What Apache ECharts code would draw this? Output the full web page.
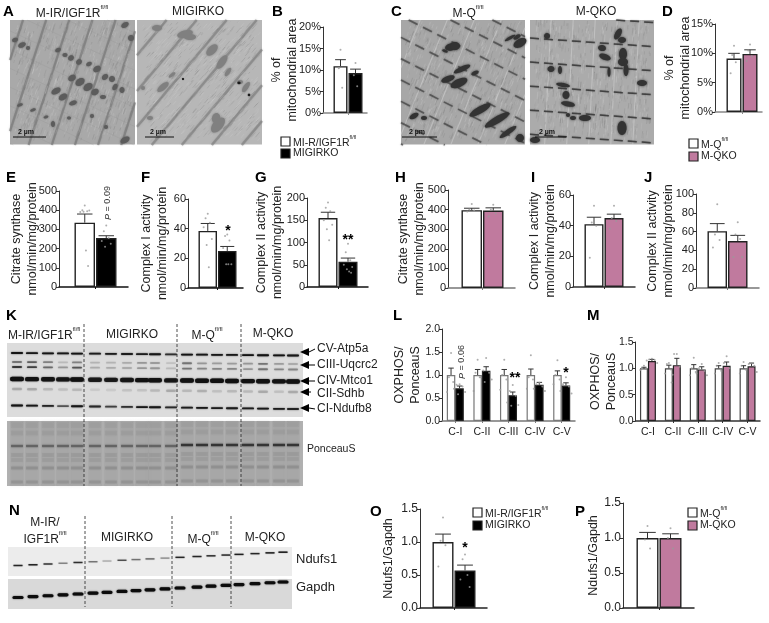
<!DOCTYPE html>
<html><head><meta charset="utf-8">
<style>html,body{margin:0;padding:0;background:#fff}#c{width:769px;height:623px}</style>
<script src="https://cdn.jsdelivr.net/npm/echarts@6/dist/echarts.min.js"></script>
</head><body><div id="c"></div>
<script>
// ---------- values ----------
const bMeans=[10.9,9.3], bErrs=[1.5,0.9], bDots=[[14.7,10.4,5.9],[11.6,8.8,6.2]];
const dMeans=[9.1,9.9], dErrs=[0.9,0.7], dDots=[[11.3,9.7,8.5,6.6],[11.5,10.5,9.5,8.7]];
const eMeans=[335,255], eErrs=[45,12], eDots=[[425,400,395,390,398,392,190,110],[320,290,255,240,225,210]];
const fMeans=[38.5,25], fErrs=[5,3], fDots=[[50,47,44,41,33,29,14],[36,35,32,27,16,16,16]];
const gMeans=[155,57], gErrs=[13,8], gDots=[[190,178,170,150,140,130,105],[97,78,60,50,45,40,35,32]];
const hMeans=[397,395], hErrs=[10,14], hDots=[[428,400,395,390],[425,400,380,365]];
const iMeans=[41,45], iErrs=[4.5,2.5], iDots=[[53,42,40,19],[53,45,43,38]];
const jMeans=[60.5,50], jErrs=[8,6], jDots=[[89,57,51,43],[70,57,52,33,33]];
const oMeans=[1.0,0.57], oErrs=[0.12,0.08], oDots=[[1.37,1.02,0.95,0.63],[0.81,0.74,0.5,0.43,0.32]];
const pMeans=[1.0,1.0], pErrs=[0.08,0.06], pDots=[[1.17,0.98,0.85],[1.14,1.0,0.85]];
const complexes=['C-I','C-II','C-III','C-IV','C-V'];
const lCtrl=[1,1,1,1,1], lKo=[0.71,1.09,0.56,0.79,0.77];
const lCtrlErr=[0.15,0.12,0.12,0.13,0.09], lKoErr=[0.05,0.09,0.07,0.05,0.06];
const lCtrlDots=[[1.48,0.95,0.85,0.63],[1.33,1.05,0.95,0.65],[1.33,1.0,0.9,0.68],[1.43,0.95,0.9,0.7],[1.32,1.0,0.9,0.8]];
const lKoDots=[[0.8,0.79,0.75,0.7,0.63,0.58],[1.37,1.1,1.05,0.95,0.9,0.85],[0.78,0.65,0.55,0.4,0.35,0.33],[0.83,0.8,0.75,0.7,0.65],[0.95,0.8,0.75,0.65,0.6]];
const mCtrl=[1,1,1,1,1], mKo=[1.14,1.06,0.98,1.05,1.04];
const mCtrlErr=[0.02,0.06,0.07,0.05,0.05], mKoErr=[0.03,0.13,0.05,0.07,0.06];
const mCtrlDots=[[1.05,1,0.99,0.97],[1.1,1.08,0.98,0.9,0.88],[1.2,1.0,0.93,0.87],[1.1,1.05,0.98,0.9],[1.12,1.05,0.98,0.9]];
const mKoDots=[[1.18,1.17,1.16,1.15,1.1],[1.27,1.27,1.03,0.73],[1.08,1,0.95,0.9,0.87],[1.23,1.1,1,0.95],[1.1,1.08,1.05,0.98,0.93]];

// ---------- styles ----------
const FONT='"Liberation Sans",Arial,sans-serif';
const WHITE='#ffffff', BLACK='#000000', PINK='#C07A9E', INK='#222222', DOT='#9a9a9a';
const jitter=[0,-0.16,0.16,-0.3,0.3,-0.08,0.08,0.22];

// ---------- panel layouts ----------
const twoBar=[
 {m:bMeans,e:bErrs,d:bDots,c:BLACK,x0:323,x1:367,yT:27,yB:113,bl:333,bw:15,max:20,iv:5,fmt:'{value}%',t:'% of\nmitochondrial area',tx:291.5,base:'#888',fs:11},
 {m:dMeans,e:dErrs,d:dDots,c:PINK,x0:715,x1:762,yT:24,yB:112,bl:726,bw:16,max:15,iv:5,fmt:'{value}%',t:'% of\nmitochondrial area',tx:684,base:'#888',fs:11},
 {m:eMeans,e:eErrs,d:eDots,c:BLACK,x0:59,x1:128,yT:191,yB:287,bl:74,bw:21.5,max:500,iv:100,t:'Citrate synthase\nnmol/min/mg/protein',tx:31.5,base:'#111',fs:11},
 {m:fMeans,e:fErrs,d:fDots,c:BLACK,x0:188,x1:243,yT:199,yB:288,bl:198,bw:19.5,max:60,iv:20,t:'Complex I activity\nnmol/min/mg/protein',tx:161,base:'#111',fs:11},
 {m:gMeans,e:gErrs,d:gDots,c:BLACK,x0:307,x1:368,yT:198,yB:287,bl:318,bw:20,max:200,iv:50,t:'Complex II activity\nnmol/min/mg/protein',tx:276,base:'#111',fs:11},
 {m:hMeans,e:hErrs,d:hDots,c:PINK,x0:448,x1:515,yT:190,yB:288,bl:461,bw:21.5,max:500,iv:100,t:'Citrate synthase\nnmol/min/mg/protein',tx:418,base:'#777',fs:11},
 {m:iMeans,e:iErrs,d:iDots,c:PINK,x0:573,x1:635,yT:195,yB:287,bl:584,bw:20,max:60,iv:20,t:'Complex I activity\nnmol/min/mg/protein',tx:549,base:'#333',fs:11},
 {m:jMeans,e:jErrs,d:jDots,c:PINK,x0:696,x1:759,yT:194,yB:288,bl:707,bw:20.5,max:100,iv:20,t:'Complex II activity\nnmol/min/mg/protein',tx:667,base:'#777',fs:11},
 {m:oMeans,e:oErrs,d:oDots,c:BLACK,x0:420,x1:487,yT:509,yB:608,bl:432,bw:22,max:1.5,iv:0.5,dec:1,t:'Ndufs1/Gapdh',tx:387,base:'#222',fs:12},
 {m:pMeans,e:pErrs,d:pDots,c:PINK,x0:623,x1:694,yT:503,yB:608,bl:636,bw:23,max:1.5,iv:0.5,dec:1,t:'Ndufs1/Gapdh',tx:592,base:'#222',fs:12}
];
const grouped=[
 {a:lCtrl,b:lKo,ae:lCtrlErr,be:lKoErr,ad:lCtrlDots,bd:lKoDots,c:BLACK,x0:442,x1:575,yT:329,yB:421,max:2,iv:0.5,t:'OXPHOS/\nPonceauS',tx:414,base:'#777'},
 {a:mCtrl,b:mKo,ae:mCtrlErr,be:mKoErr,ad:mCtrlDots,bd:mKoDots,c:PINK,x0:635.5,x1:760,yT:342,yB:421,max:1.5,iv:0.5,t:'OXPHOS/\nPonceauS',tx:610,base:'#333'}
];

const grids=[],xAxes=[],yAxes=[],series=[];
function yAxisOf(p,i,fs,dec){
 return {gridIndex:i,type:'value',min:0,max:p.max,interval:p.iv,splitLine:{show:false},
  axisLine:{show:true,onZero:false,lineStyle:{color:'#333',width:1}},
  axisTick:{show:true,length:3,lineStyle:{color:'#333'}},
  axisLabel:{fontFamily:FONT,fontSize:fs,color:INK,margin:2,
    formatter:p.fmt||(dec?(v=>v.toFixed(dec)):'{value}')},
  name:p.t,nameLocation:'middle',nameRotate:90,nameGap:p.x0-p.tx-9.5,nameMoveOverlap:false,
  nameTextStyle:{fontFamily:FONT,fontSize:12.5,color:INK,lineHeight:16}};
}
function errorSeries(i,data,cap){
 return {type:'custom',xAxisIndex:i,yAxisIndex:i,z:3,data,encode:{x:0,y:1},silent:true,
  renderItem(_,api){
   const x=api.value(0),m=api.value(1),e=api.value(2),a=api.coord([x,m]),b=api.coord([x,m+e]);
   const st={stroke:'#333',lineWidth:1};
   return {type:'group',children:[
    {type:'line',shape:{x1:a[0],y1:a[1],x2:b[0],y2:b[1]},style:st},
    {type:'line',shape:{x1:b[0]-cap,y1:b[1],x2:b[0]+cap,y2:b[1]},style:st}]};
  }};
}
function dotSeries(i,pts){
 return {type:'scatter',xAxisIndex:i,yAxisIndex:i,z:4,symbolSize:2,data:pts,silent:true,itemStyle:{color:DOT}};
}
twoBar.forEach((p,i)=>{
 grids.push({left:p.x0,top:p.yT,width:p.x1-p.x0,height:p.yB-p.yT});
 const c0=p.bl+p.bw/2;
 xAxes.push({gridIndex:i,type:'value',min:(p.x0-c0)/p.bw,max:(p.x1-c0)/p.bw,splitLine:{show:false},
  axisLine:{show:true,onZero:false,lineStyle:{color:p.base,width:1.5}},
  axisTick:{show:true,length:2,customValues:[0.5],lineStyle:{color:p.base}},
  axisLabel:{show:false}});
 yAxes.push(yAxisOf(p,i,p.fs,p.dec));
 series.push({type:'bar',xAxisIndex:i,yAxisIndex:i,z:2,barWidth:p.bw-1,silent:true,
  data:p.m.map((v,k)=>({value:[k,v],itemStyle:{color:k?p.c:WHITE,borderColor:INK,borderWidth:1.4}}))});
 series.push(errorSeries(i,p.m.map((v,k)=>[k,v,p.e[k]]),p.bw*0.36));
 const pts=[];p.d.forEach((arr,k)=>arr.forEach((v,n)=>pts.push([k+jitter[n%jitter.length]*0.7,v])));
 series.push(dotSeries(i,pts));
});
grouped.forEach((p,g)=>{
 const i=twoBar.length+g, unit=(p.x1-p.x0)/5, bw=unit*0.32, off=0.16;
 grids.push({left:p.x0,top:p.yT,width:p.x1-p.x0,height:p.yB-p.yT});
 xAxes.push({gridIndex:i,type:'value',min:-0.5,max:4.5,splitLine:{show:false},
  axisLine:{show:true,onZero:false,lineStyle:{color:p.base,width:1.5}},
  axisTick:{show:true,length:2,customValues:[0,1,2,3,4],lineStyle:{color:p.base}},
  axisLabel:{show:true,customValues:[0,1,2,3,4],margin:6,fontFamily:FONT,fontSize:10.5,color:INK,formatter:v=>complexes[v]}});
 yAxes.push(yAxisOf(p,i,10.5,1));
 const bars=[],errs=[],pts=[];
 p.a.forEach((v,k)=>{
  bars.push({value:[k-off,v],itemStyle:{color:WHITE,borderColor:g?'#444':'#777',borderWidth:1.2}});
  bars.push({value:[k+off,p.b[k]],itemStyle:{color:p.c,borderColor:INK,borderWidth:1.2}});
  errs.push([k-off,v,p.ae[k]],[k+off,p.b[k],p.be[k]]);
  p.ad[k].forEach((d,n)=>pts.push([k-off+jitter[n%8]*0.5,d]));
  p.bd[k].forEach((d,n)=>pts.push([k+off+jitter[n%8]*0.7,d]));
 });
 series.push({type:'bar',xAxisIndex:i,yAxisIndex:i,z:2,barWidth:bw,silent:true,data:bars});
 series.push(errorSeries(i,errs,bw*0.32));
 series.push(dotSeries(i,pts));
});

// ---------- decoration: micrographs, blots, labels ----------
const G=[];
function R(x,y,w,h,fill,extra){G.push(Object.assign({type:'rect',silent:true,shape:{x,y,width:w,height:h},style:{fill}},extra||{}));}
function L(x1,y1,x2,y2,stroke,w,extra){G.push({type:'line',silent:true,shape:{x1,y1,x2,y2},style:Object.assign({stroke,lineWidth:w},extra||{})});}
function T(text,x,y,opt){opt=opt||{};
 G.push({type:'text',silent:true,x,y,rotation:opt.rot||0,style:{text,fontFamily:FONT,fontSize:opt.fs||12,fontWeight:opt.fw||'normal',fontStyle:opt.st||'normal',fill:opt.c||INK,
  align:opt.al||'left',verticalAlign:'middle',textAlign:opt.al||'left',textVerticalAlign:'middle',rich:opt.rich}});}
function SUP(text,sup,x,y,fs,al){
 T('{m|'+text+'}{s|'+sup+'}',x,y,{fs,al,rich:{m:{fontFamily:FONT,fontSize:fs,fill:INK,color:INK,lineHeight:fs+3,verticalAlign:'bottom'},s:{fontFamily:FONT,fontSize:fs*0.5,fill:INK,color:INK,lineHeight:fs+3,verticalAlign:'top'}}});
}
function clipLine(x,y,w,h,px,py,dx,dy){
 let t0=-1e4,t1=1e4;
 [[-dx,px-x],[dx,x+w-px],[-dy,py-y],[dy,y+h-py]].forEach(([p,q])=>{
  if(Math.abs(p)<1e-9){if(q<0)t1=-1e9;return;}
  const r=q/p; if(p<0)t0=Math.max(t0,r); else t1=Math.min(t1,r);
 });
 return t0<t1?[px+t0*dx,py+t0*dy,px+t1*dx,py+t1*dy]:null;
}
function family(x,y,w,h,deg,step,stroke,lw,op,dash,blur){
 const a=deg*Math.PI/180,dx=Math.cos(a),dy=Math.sin(a),nx=-dy,ny=dx,cx=x+w/2,cy=y+h/2,R_=Math.hypot(w,h)/2;
 for(let s=-R_;s<=R_;s+=step){
  const c=clipLine(x,y,w,h,cx+nx*s,cy+ny*s,dx,dy);
  if(c)L(c[0],c[1],c[2],c[3],stroke,lw,{opacity:op,lineDash:dash,shadowBlur:blur||0,shadowColor:stroke});
 }
}
// photographic grain for the micrograph panels (texture only, no chart data)
function grain(x,y,w,h,deg,seed,n,len){
 const f=v=>{const s=Math.sin(v*12.9898+seed*78.233)*43758.5453;return s-Math.floor(s);};
 const a=deg*Math.PI/180,dx=Math.cos(a),dy=Math.sin(a);
 for(let i=0;i<n;i++){
  const l=len*(0.5+f(i+0.3)), px=x+l+f(i+0.1)*(w-2*l), py=y+l+f(i+0.2)*(h-2*l), dark=f(i+0.4)>0.5;
  L(px,py,px+dx*l,py+dy*l,dark?'#666':'#dedede',1,{opacity:0.08+0.14*f(i+0.6)});
 }
}
function blobs(list,fill,blur){
 list.forEach(([cx,cy,rx,ry,rot])=>{
  G.push({type:'ellipse',silent:true,shape:{cx:0,cy:0,rx,ry},x:cx,y:cy,rotation:-(rot||0)*Math.PI/180,
   style:{fill,shadowBlur:blur||1.5,shadowColor:fill}});
 });
}
const S=125;
// A left
R(10,20,S,S-0.5,'#a9a9a9');
family(10,20,S,125,-72,22,'#737373',2.2,0.5,null,1.5);
grain(10,20,S,125,-72,1,800,5);
family(10,20,S,125,25,17,'#8a8a8a',1,0.2);
blobs([[15,40,3,2,-20],[22,45,4,2.5,-25],[28,48,2,2],[58,50,3,2,-30],[65,55,2.5,2],[71,58,3,2.5,-30],[79,62,3,2.5,-30],[89,64,3,2,-30],[97,69,4,3,-30],[105,77,3.5,2.5,-40],[112,79,3,3],[115,87,3.5,2.2,-60],[122,90,2.5,3],
[72,78,4,3,-30],[80,82,5,3.5,-35],[88,87,5,3.5,-35],[95,92,4,3,-35],[103,97,3,2],[56,91,5,3,-30],[63,97,4.5,3,-30],[73,103,4,2.2,-20],[20,105,3,1.4,-20],[33,110,3,1.4,-20],[46,117,2.5,1.3,-20],[69,118,2,1.5],[92,116,2,2],[106,127,2,2],[125,140,5,3,-30],[125,25,4,2.5,-30],[131,38,3,3],[53,124,2,3]],'#5c5c5c',2);
L(13,137,46,137,'#111',1); T('2 µm',26,132,{fs:7,fw:'bold',al:'center',c:'#111'});
// A right
R(137,20,S,S-0.5,'#b7b7b7');
family(137,20,S,125,-50,23,'#7c7c7c',2.4,0.5,null,1.5);
grain(137,20,S,125,-50,2,800,5);
blobs([[185,34,8,3.5,-15],[190,37,6,3],[157,28,5,3],[212,50,7,4,-45],[222,62,8,3.5,-55],[228,72,5,2,-55],[246,87,6,2.5,-55],[240,82,3,2],[172,75,4,1.6,-35],[163,87,7,3,-40],[218,125,9,5,-50],[216,118,5,4,-70],[143,88,2,2],[150,118,3,2]],'#808080',2.5);
blobs([[239,83,1.5,1.2],[249,95,1.2,1.2],[183,79,1,1]],'#1a1a1a',1);
L(145,137,174,137,'#111',1); T('2 µm',158,132,{fs:7,fw:'bold',al:'center',c:'#111'});
// C left
R(401,20,124,124.5,'#a7a7a7');
family(401,20,124,125,-68,25,'#d8d8d8',1.1,0.45);
grain(401,20,124,125,-70,3,800,5);
family(401,20,124,125,27,19,'#3f3f3f',1.6,0.6,[10,6],1.5);
blobs([[451,47,6,3.5,-15],[455,46,5,4],[445,51,3,1.4,20],[462,69,9,2.5,-25],[475,73,4,2,-25],[448,79,7,3,-20],[459,83,9,4,-25],[480,110,12,3.5,-30],[497,120,14,3.5,-30],[508,132,10,2.5,-35],[520,43,7,4,-30],[517,37,4,2,-30],[414,116,5,2.5,-30],[424,118,3,2],[520,138,4,4],[510,38,6,1.5,-30]],'#333333',2.5);
L(402,137,437,137,'#111',1); T('2 µm',417,132,{fs:7,fw:'bold',al:'center',c:'#111'});
// C right
R(530,20,124,124.5,'#ababab');
family(530,20,124,125,-87,22,'#d9d9d9',1.1,0.45);
grain(530,20,124,125,-85,4,800,5);
family(530,20,124,125,4,24,'#2d2d2d',1.5,0.65,[9,5],1.2);
blobs([[618,34,6,3,-60],[622,40,4,3],[623,54,4,6],[623,62,5,4],[626,70,2.5,6],[602,48,3,4,-80],[605,57,3,6,-70],[609,72,1.5,5],[551,69,3.5,3],[560,70,2,4],[563,85,2,7,-80],[566,95,3.5,4],[568,104,2.5,7,-80],[568,115,2,2],[585,118,6,3],[622,128,4.5,7],[642,83,5,3],[535,140,5,3],[547,36,3,3],[573,118,3,2]],'#333333',2.5);
L(535,137,566,137,'#111',1); T('2 µm',547,132,{fs:7,fw:'bold',al:'center',c:'#111'});
// Blot K
const kLanes=[17,32,48,63,77,95,111,127,142,155,171,187,202,217,232,248,263,279,293];
const kBands=[
 {y0:353,y1:355.5,w:12,h:1.8,v:[.95,.9,.95,.9,.95,.85,.85,.85,.85,.9,.7,.95,.9,.9,.9,.95,.95,.95,.9]},
 {y0:362,y1:364,w:10,h:1.8,v:[.35,.45,.3,.1,.3,.12,.12,.15,.22,.2,.08,.35,.22,.2,.2,.22,.35,.2,.15]},
 {y0:367,y1:369.5,w:10,h:1.8,v:[.65,.6,.4,.22,.5,.15,.15,.15,.22,.22,.1,.35,.28,.28,.28,.22,.35,.28,.28]},
 {y0:379,y1:381.5,w:14,h:4.4,v:[1,1,.95,.9,1,.85,.85,.9,1,.95,.9,1,1,1,1,1,1,1,1]},
 {y0:389,y1:392,w:10,h:2.5,v:[.15,.15,.1,.08,.1,.05,.05,.07,.07,.1,.15,.1,.13,.08,.1,.1,.15,.08,.15]},
 {y0:405.5,y1:409,w:12,h:1.8,v:[.95,.9,.8,.5,.9,.75,.6,.7,.9,.9,.75,.85,.9,.85,.85,.85,.9,.85,.8]}
];
const pBands=[{y:425,o:.04,h:6},{y:433,o:.05,h:5},{y:446,o:.45,h:2.4},{y:455,o:.06,h:4},{y:460,o:.05,h:4},{y:468,o:.13,h:3},{y:482,o:.1,h:3}];
R(7,343,296,74,'#dcdcdc');
R(7,421,296,65,'#b2b2b2');
kLanes.forEach(x=>G.push({type:'rect',silent:true,shape:{x:x-7,y:421,width:14,height:65},style:{fill:'#8f8f8f',opacity:.15,shadowBlur:3,shadowColor:'#8f8f8f'}}));
kBands.forEach(b=>kLanes.forEach((x,i)=>{const y=b.y0+(b.y1-b.y0)*(x-17)/276;
 G.push({type:'rect',silent:true,shape:{x:x-b.w/2,y:y-b.h/2,width:b.w,height:b.h,r:b.h/2},style:{fill:'#111',opacity:b.v[i],shadowBlur:1.5,shadowColor:'#222'}});}));
pBands.forEach(b=>kLanes.forEach(x=>{const y=b.y+(x>180?-1:0),dark=b.o>.4&&x>180?.95:b.o;
 G.push({type:'rect',silent:true,shape:{x:x-6,y:y-b.h/2,width:12,height:b.h},style:{fill:'#333',opacity:dark,shadowBlur:2,shadowColor:'#555'}});}));
[84,177,241].forEach(x=>L(x,324,x,486,'#222',0.8,{lineDash:[3,2]}));
SUP('M-IR/IGF1R','fl/fl',8,334,12,'left');
T('MIGIRKO',132,335,{fs:12,al:'center'});
SUP('M-Q','fl/fl',207,334,12,'center');
T('M-QKO',273,334,{fs:12,al:'center'});
const kTargets=['CV-Atp5a','CIII-Uqcrc2','CIV-Mtco1','CII-Sdhb','CI-Ndufb8'], kTargetY=[349,365,381,394,409], kArrowY=[352,365,381,392,408];
kTargets.forEach((t,i)=>{const y=kArrowY[i];
 G.push({type:'polygon',silent:true,shape:{points:[[300,y],[309,y-4],[309,y+4]]},style:{fill:'#000'}});
 L(309,y,i==3?311:315,i==3?y:kTargetY[i],'#000',1);
 T(t,317,kTargetY[i],{fs:12});});
T('PonceauS',307,449,{fs:10.5});
// Blot N
const nLanes=[18,33,48,63,78,93,107,122,136,150,165,180,197,211,226,239,255,270,283];
const nA=[.8,.85,.7,.35,.75,.4,.2,.55,.4,.45,.3,.8,.8,.75,.75,.85,.8,.85,.9];
R(8,547,284,29,'#ececec');
R(8,579,284,30,'#d9d9d9');
nLanes.forEach((x,i)=>{const y=565.5-(x-18)*13.3/265,y2=597.5-(x-18)*15.5/265;
 G.push({type:'rect',silent:true,shape:{x:x-4.5,y:y-.7,width:9,height:1.4},style:{fill:'#111',opacity:nA[i],shadowBlur:1,shadowColor:'#444'}});
 G.push({type:'rect',silent:true,shape:{x:x-5.5,y:y2-1.6,width:11,height:3.2,r:1.6},style:{fill:'#0c0c0c',shadowBlur:1.5,shadowColor:'#333'}});});
[85,172,231].forEach(x=>L(x,516,x,607,'#222',0.8,{lineDash:[3,2]}));
T('M-IR/',45,523,{fs:12,al:'center'});
SUP('IGF1R','fl/fl',45,538,12,'center');
T('MIGIRKO',127,538,{fs:12,al:'center'});
SUP('M-Q','fl/fl',203,538,12,'center');
T('M-QKO',265,538,{fs:12,al:'center'});
T('Ndufs1',296,559,{fs:13}); T('Gapdh',296,587,{fs:13});
// Image titles
SUP('M-IR/IGF1R','fl/fl',72,12,12,'center');
T('MIGIRKO',198,12,{fs:12,al:'center'});
SUP('M-Q','fl/fl',468,12,12,'center');
T('M-QKO',596,12,{fs:12,al:'center'});
// Panel letters
[['A',3,12],['B',272,12],['C',391,12],['D',662,12],['E',6,178],['F',141,178],['G',255,178],['H',395,178],['I',531,178],['J',644,178],['K',6,316],['L',393,316],['M',587,316],['N',9,511],['O',370,512],['P',575,512]]
 .forEach(([t,x,y])=>T(t,x,y,{fs:15,fw:'bold',c:'#000'}));
// Legends
function legend(x,y1,y2,name1,sup,name2,color,fs){
 R(x,y1,9,9,WHITE,{style:{fill:WHITE,stroke:'#222',lineWidth:1.2}});
 R(x,y2,9,9,color,{style:{fill:color,stroke:'#222',lineWidth:1.2}});
 SUP(name1,sup,x+12,y1+4.5,fs,'left'); T(name2,x+12,y2+4.5,{fs});
}
legend(281,137,149,'MI-R/IGF1R','fl/fl','MIGIRKO',BLACK,10.5);
legend(689,139,152,'M-Q','fl/fl','M-QKO',PINK,10.5);
legend(473,508,521,'MI-R/IGF1R','fl/fl','MIGIRKO',BLACK,10.5);
legend(688,508,521,'M-Q','fl/fl','M-QKO',PINK,10.5);
// Significance marks
const rot=Math.PI/2;
G.push({type:'text',silent:true,x:108,y:203,rotation:rot,style:{text:'{i|P} = 0.09',fontFamily:FONT,fontSize:9,fill:'#333',align:'center',verticalAlign:'middle',rich:{i:{fontStyle:'italic',fontFamily:FONT,fontSize:9}}}});
G.push({type:'text',silent:true,x:462,y:362,rotation:rot,style:{text:'{i|P} = 0.06',fontFamily:FONT,fontSize:9,fill:'#333',align:'center',verticalAlign:'middle',rich:{i:{fontStyle:'italic',fontFamily:FONT,fontSize:9}}}});
[['*',228,231],['**',348,240],['**',515,378],['*',566,373],['*',465,548]].forEach(([t,x,y])=>T(t,x,y,{fs:14,fw:'bold',al:'center',c:'#000'}));

const chart=echarts.init(document.getElementById('c'),null,{renderer:'canvas',width:769,height:623});
chart.setOption({animation:false,backgroundColor:'#fff',grid:grids,xAxis:xAxes,yAxis:yAxes,series,graphic:{elements:G}});
</script></body></html>
